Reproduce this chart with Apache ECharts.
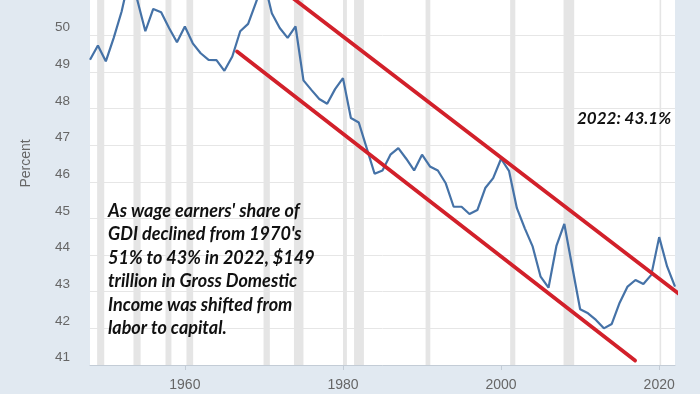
<!DOCTYPE html>
<html>
<head>
<meta charset="utf-8">
<script src="https://cdn.jsdelivr.net/npm/echarts@6/dist/echarts.min.js"></script>
<style>html,body{margin:0;padding:0;background:#e1e9f1;}#c{width:700px;height:394px;}</style>
</head>
<body>
<div id="c"></div>
<script>
const years = [1948,1949,1950,1951,1952,1953,1954,1955,1956,1957,1958,1959,1960,1961,1962,1963,1964,1965,1966,1967,1968,1969,1970,1971,1972,1973,1974,1975,1976,1977,1978,1979,1980,1981,1982,1983,1984,1985,1986,1987,1988,1989,1990,1991,1992,1993,1994,1995,1996,1997,1998,1999,2000,2001,2002,2003,2004,2005,2006,2007,2008,2009,2010,2011,2012,2013,2014,2015,2016,2017,2018,2019,2020,2021,2022];
const share = [49.33,49.72,49.29,49.93,50.65,51.6,50.95,50.11,50.72,50.63,50.2,49.81,50.24,49.78,49.51,49.33,49.32,49.03,49.42,50.11,50.31,50.9,51.5,50.6,50.2,49.93,50.24,48.77,48.51,48.26,48.13,48.53,48.83,47.74,47.62,46.92,46.22,46.31,46.74,46.92,46.63,46.31,46.74,46.42,46.31,45.96,45.32,45.32,45.12,45.23,45.83,46.1,46.63,46.3,45.28,44.73,44.23,43.41,43.11,44.25,44.85,43.68,42.52,42.41,42.23,42.0,42.12,42.7,43.14,43.32,43.21,43.46,44.49,43.69,43.14];
const recessions = [[1948.9,1949.8],[1953.5,1954.4],[1957.55,1958.3],[1960.2,1961.05],[1969.95,1970.75],[1973.8,1975.0],[1980.0,1980.5],[1981.4,1982.65],[1990.45,1991.05],[2001.15,2001.8],[2007.9,2009.25],[2020.05,2020.25]];
const upperTrend = [[1973.45,51.05],[2023.05,42.85]];
const lowerTrend = [[1966.6,49.56],[2016.95,41.12]];
const xTickYears = [1960,1980,2000,2020];
const annotation = "As wage earners' share of\nGDI declined from 1970's\n51% to 43% in 2022, $149\ntrillion in Gross Domestic\nIncome was shifted from\nlabor to capital.";
const lastLabel = "2022: 43.1%";

const chart = echarts.init(document.getElementById('c'), null, {renderer:'canvas'});
chart.setOption({
  backgroundColor: '#e1e9f1',
  animation: false,
  grid: {left: 90, right: 25, top: -38, bottom: 29, show: true, backgroundColor: '#ffffff', borderWidth: 0, outerBoundsMode: 'none', containLabel: false},
  xAxis: {
    type: 'value', min: 1948, max: 2022,
    splitLine: {show: false},
    axisLine: {show: true, lineStyle: {color: '#c3ccd6', width: 1}},
    axisTick: {show: true, customValues: xTickYears, length: 5, lineStyle: {color: '#c3ccd6'}},
    axisLabel: {customValues: xTickYears, formatter: v => String(v), color: '#666666', fontSize: 14, fontFamily: 'Liberation Sans, Arial, sans-serif', margin: 13}
  },
  yAxis: {
    type: 'value', min: 41, max: 52, interval: 1,
    name: 'Percent', nameLocation: 'middle', nameGap: 57,
    nameTextStyle: {color: '#666666', fontSize: 14, fontFamily: 'Liberation Sans, Arial, sans-serif'},
    axisLine: {show: false}, axisTick: {show: false},
    splitLine: {lineStyle: {color: '#e6e6e6', width: 1}},
    axisLabel: {color: '#666666', fontSize: 13.5, fontFamily: 'Liberation Sans, Arial, sans-serif', margin: 20, verticalAlign: 'bottom', lineHeight: 15}
  },
  series: [
    {
      type: 'line', data: [], z: 1, silent: true,
      markArea: {silent: true, itemStyle: {color: '#e5e5e5'},
        data: recessions.map(r => [{xAxis: r[0]}, {xAxis: r[1]}])}
    },
    {
      type: 'line', z: 3, symbol: 'none', silent: true,
      data: years.map((y,i) => [y, share[i]]),
      lineStyle: {color: '#4572a7', width: 2.2}
    },
    {
      type: 'line', z: 4, symbol: 'none', silent: true, clip: false,
      data: upperTrend, lineStyle: {color: '#d2202a', width: 3.8, cap: 'round'}
    },
    {
      type: 'line', z: 4, symbol: 'none', silent: true, clip: false,
      data: lowerTrend, lineStyle: {color: '#d2202a', width: 3.8, cap: 'round'}
    }
  ],
  graphic: [
    {type: 'text', left: 108, top: 199, z: 10, silent: true,
     style: {text: annotation, font: 'italic bold 18px Lato, sans-serif', lineHeight: 23.5, fill: '#111111'}},
    {type: 'text', left: 577, top: 110, z: 10, silent: true,
     style: {text: lastLabel, font: 'italic bold 17px Lato, sans-serif', fill: '#111111'}}
  ]
});
</script>
</body>
</html>
